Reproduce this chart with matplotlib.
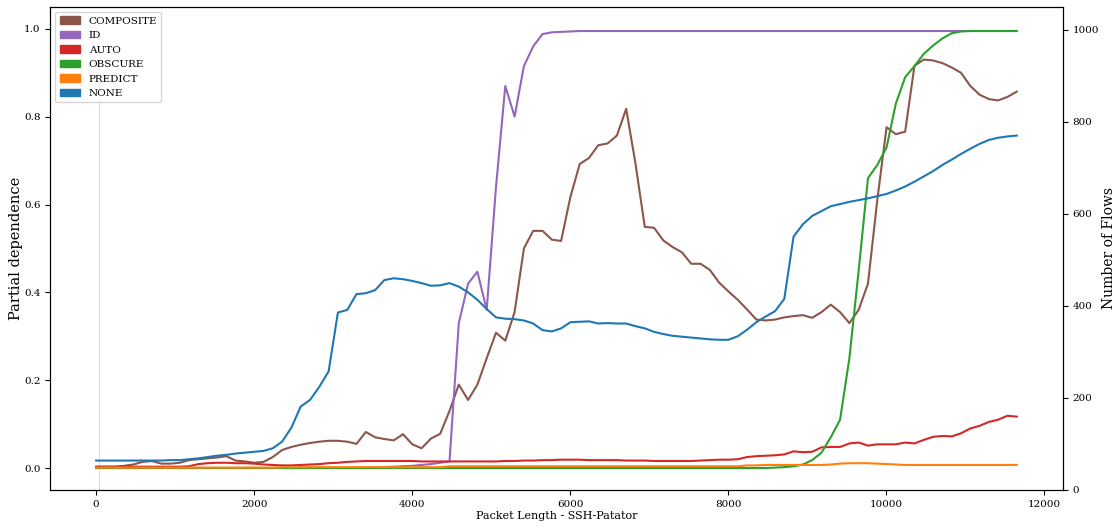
import numpy as np
import matplotlib.pyplot as plt
from matplotlib.patches import Patch

plt.rcParams['font.family'] = 'DejaVu Serif'
plt.rcParams['font.size'] = 7.5

# partial dependence grid over packet length
packet_len = np.linspace(0, 11650, 100)

composite = [0.003, 0.003, 0.003, 0.005, 0.008, 0.014, 0.016, 0.010, 0.010, 0.012,
             0.018, 0.020, 0.022, 0.024, 0.027, 0.017, 0.015, 0.012, 0.014, 0.025,
             0.041, 0.048, 0.053, 0.057, 0.060, 0.062, 0.062, 0.060, 0.055, 0.082,
             0.070, 0.066, 0.063, 0.077, 0.054, 0.045, 0.067, 0.078, 0.130, 0.190,
             0.155, 0.190, 0.250, 0.308, 0.290, 0.355, 0.500, 0.540, 0.540, 0.520,
             0.517, 0.617, 0.692, 0.706, 0.735, 0.739, 0.757, 0.818, 0.693, 0.549,
             0.547, 0.518, 0.503, 0.491, 0.465, 0.465, 0.451, 0.422, 0.402, 0.383,
             0.361, 0.338, 0.336, 0.338, 0.343, 0.346, 0.348, 0.342, 0.355, 0.372,
             0.355, 0.330, 0.360, 0.420, 0.610, 0.776, 0.760, 0.766, 0.916, 0.930,
             0.928, 0.922, 0.912, 0.900, 0.870, 0.850, 0.840, 0.837, 0.845, 0.857]

id_vals = [0.0] * 30 + \
          [0.001, 0.002, 0.003, 0.004, 0.005, 0.007, 0.009, 0.012, 0.015, 0.330,
           0.420, 0.447, 0.360, 0.640, 0.870, 0.800, 0.915, 0.960, 0.988, 0.992,
           0.993, 0.994] + [0.995] * 48

auto = [0.003, 0.003, 0.003, 0.003, 0.003, 0.003, 0.003, 0.003, 0.003, 0.003,
        0.004, 0.009, 0.011, 0.012, 0.012, 0.011, 0.011, 0.010, 0.008, 0.007,
        0.006, 0.006, 0.007, 0.008, 0.009, 0.011, 0.012, 0.014, 0.015, 0.016,
        0.016, 0.016, 0.016, 0.016, 0.016, 0.015, 0.015, 0.015, 0.015, 0.015,
        0.015, 0.015, 0.015, 0.015, 0.016, 0.016, 0.017, 0.017, 0.018, 0.018,
        0.019, 0.019, 0.019, 0.018, 0.018, 0.018, 0.018, 0.017, 0.017, 0.017,
        0.016, 0.016, 0.016, 0.016, 0.016, 0.017, 0.018, 0.019, 0.019, 0.020,
        0.025, 0.027, 0.028, 0.029, 0.031, 0.038, 0.036, 0.037, 0.047, 0.048,
        0.048, 0.056, 0.058, 0.051, 0.054, 0.054, 0.054, 0.058, 0.056, 0.064,
        0.071, 0.073, 0.072, 0.079, 0.090, 0.096, 0.105, 0.110, 0.119, 0.117]

obscure = [0.0] * 73 + \
          [0.001, 0.002, 0.004, 0.008, 0.018, 0.035, 0.070,
           0.110, 0.250, 0.450, 0.660, 0.690, 0.730, 0.830, 0.890, 0.915, 0.943,
           0.962, 0.978, 0.990, 0.994] + [0.995] * 6

predict = [0.001] * 20 + [0.002] * 18 + [0.004] * 32 + \
          [0.006, 0.006, 0.007, 0.007, 0.007, 0.007, 0.007, 0.007, 0.007, 0.008,
           0.010, 0.011, 0.011, 0.011, 0.010, 0.009, 0.008] + [0.007] * 13

none = [0.017, 0.017, 0.017, 0.017, 0.017, 0.017, 0.017, 0.017, 0.018, 0.018,
        0.020, 0.022, 0.025, 0.028, 0.030, 0.033, 0.035, 0.037, 0.039, 0.045,
        0.060, 0.092, 0.140, 0.155, 0.185, 0.220, 0.354, 0.360, 0.396, 0.398,
        0.405, 0.428, 0.432, 0.430, 0.426, 0.421, 0.415, 0.416, 0.421, 0.413,
        0.400, 0.383, 0.362, 0.343, 0.340, 0.339, 0.336, 0.329, 0.314, 0.311,
        0.318, 0.332, 0.333, 0.334, 0.329, 0.330, 0.329, 0.329, 0.323, 0.318,
        0.310, 0.305, 0.301, 0.299, 0.297, 0.295, 0.293, 0.292, 0.292, 0.300,
        0.315, 0.332, 0.345, 0.357, 0.385, 0.527, 0.555, 0.574, 0.585, 0.596,
        0.601, 0.606, 0.610, 0.614, 0.619, 0.624, 0.632, 0.641, 0.652, 0.664,
        0.676, 0.690, 0.702, 0.715, 0.727, 0.738, 0.747, 0.752, 0.755, 0.757]

# flow counts per packet length bin
flow_bins = [40]
flow_counts = [1000]

series = [('COMPOSITE', composite, 'tab:brown'),
          ('ID', id_vals, 'tab:purple'),
          ('AUTO', auto, 'tab:red'),
          ('OBSCURE', obscure, 'tab:green'),
          ('PREDICT', predict, 'tab:orange'),
          ('NONE', none, 'tab:blue')]

fig, ax = plt.subplots(figsize=(11.14, 5.28), dpi=100)
ax2 = ax.twinx()
ax2.bar(flow_bins, flow_counts, width=12, color='lightgrey', alpha=0.8)
ax2.set_ylabel('Number of Flows', fontsize=10, labelpad=2)
ax2.set_zorder(0)
ax.set_zorder(1)
ax.patch.set_visible(False)

handles = []
for name, vals, c in series:
    ax.plot(packet_len, vals, color=c, lw=1.5)
    handles.append(Patch(color=c, label=name))

ax.set_xlim(-582, 12232)
ax.set_ylim(-0.05, 1.05)
ax2.set_ylim(0, 1050)
ax.set_xlabel('Packet Length - SSH-Patator', fontsize=8, labelpad=2)
ax.set_ylabel('Partial dependence', fontsize=10.5, labelpad=1)
ax.legend(handles=handles, loc='upper left')

fig.subplots_adjust(left=0.045, right=0.954, top=0.987, bottom=0.072)
fig.savefig('out.png')
